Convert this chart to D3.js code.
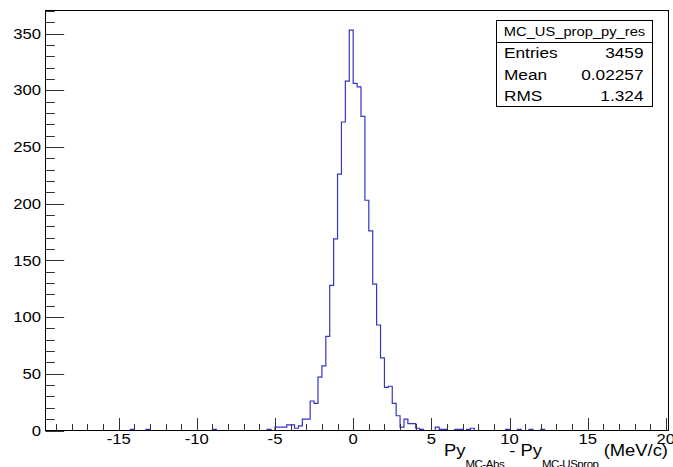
<!DOCTYPE html>
<html>
<head>
<meta charset="utf-8">
<script src="https://cdn.jsdelivr.net/npm/d3@7"></script>
<style>
  html, body { margin: 0; padding: 0; background: #fff; }
  svg { display: block; font-family: "Liberation Sans", Arial, Helvetica, sans-serif; }
</style>
</head>
<body>
<svg id="chart" width="673" height="467"></svg>
<script>
// ---- data ----
const binWidth = 0.25;
// low edges of the non-empty bins
const binLowEdges = [-14.25, -13.25, -9.0, -5.5, -5.0, -4.75, -4.5, -4.25, -4.0, -3.75, -3.5, -3.25, -3.0,
  -2.75, -2.5, -2.25, -2.0, -1.75, -1.5, -1.25, -1.0, -0.75, -0.5, -0.25,
  0.0, 0.25, 0.5, 0.75, 1.0, 1.25, 1.5, 1.75, 2.0, 2.25, 2.5, 2.75, 3.0, 3.25, 3.5, 3.75, 4.0, 4.25,
  5.25, 5.5, 5.75, 6.5, 6.75, 7.25, 7.5, 9.75, 10.5, 11.25, 12.0];
const binCounts = [1, 1, 1, 1, 3, 3, 3, 5, 5, 2, 4, 10, 10,
  26, 24, 47, 57, 83, 128, 169, 226, 272, 308, 353,
  306, 303, 277, 203, 176, 129, 93, 64, 38, 39, 24, 13, 3, 10, 6, 6, 2, 1,
  3, 1, 1, 1, 1, 1, 2, 1, 1, 1, 1];
const xDomain = [-19.68, 20.17];
const yDomain = [0, 370.3];
const xMajorTicks = [-15, -10, -5, 0, 5, 10, 15, 20];
const yMajorTicks = [0, 50, 100, 150, 200, 250, 300, 350];
const statsTitle = "MC_US_prop_py_res";
const statsLabels = ["Entries", "Mean", "RMS"];
const statsValues = ["3459", "0.02257", "1.324"];

// ---- layout ----
const L = 45.5, R = 668.5, T = 10.5, B = 430.5;
const SX = 1.15; // horizontal text stretch seen in the reference
const svg = d3.select("#chart");
const x = d3.scaleLinear().domain(xDomain).range([L, R]);
const y = d3.scaleLinear().domain(yDomain).range([B, T]);

function stext(g, px, py, str, size, anchor) {
  return g.append("text")
    .attr("transform", `translate(${px},${py}) scale(${SX},1)`)
    .attr("text-anchor", anchor)
    .attr("font-size", size)
    .attr("fill", "#000")
    .text(str);
}

// ---- histogram (dense bins built from the sparse data) ----
const kMin = Math.floor(xDomain[0] / binWidth), kMax = Math.ceil(xDomain[1] / binWidth);
const countMap = new Map();
binLowEdges.forEach((e, i) => countMap.set(Math.round(e / binWidth), binCounts[i]));
const pts = [];
for (let k = kMin; k < kMax; k++) pts.push([k * binWidth, countMap.get(k) || 0]);
pts.push([kMax * binWidth, pts[pts.length - 1][1]]);

svg.append("clipPath").attr("id", "clip")
  .append("rect").attr("x", L).attr("y", T - 2).attr("width", R - L).attr("height", B - T + 2);

const line = d3.line().x(d => x(d[0])).y(d => y(d[1])).curve(d3.curveStepAfter);
svg.append("path")
  .attr("d", line(pts))
  .attr("clip-path", "url(#clip)")
  .attr("fill", "none")
  .attr("stroke", "#3434c8")
  .attr("stroke-width", 1.2);

// ---- frame ----
svg.append("rect").attr("x", L).attr("y", T).attr("width", R - L).attr("height", B - T)
  .attr("fill", "none").attr("stroke", "#000").attr("stroke-width", 1);

// ---- x axis ticks (drawn inward, upward) ----
const xMinor = d3.range(Math.ceil(xDomain[0]), Math.floor(xDomain[1]) + 1);
const gx = svg.append("g");
xMinor.forEach(v => {
  const major = xMajorTicks.includes(v);
  const px = Math.round(x(v)) + 0.5;
  gx.append("line").attr("x1", px).attr("x2", px)
    .attr("y1", B).attr("y2", B - (major ? 12.5 : 6.5))
    .attr("stroke", "#333").attr("stroke-width", 1);
});
xMajorTicks.forEach(v => stext(gx, x(v), 444, String(v), 14.5, "middle"));

// ---- y axis ticks (drawn inward, rightward) ----
const yMinor = d3.range(0, Math.floor(yDomain[1]) + 1, 10);
const gy = svg.append("g");
yMinor.forEach(v => {
  const major = yMajorTicks.includes(v);
  const py = Math.round(y(v)) + 0.5;
  gy.append("line").attr("x1", L).attr("x2", L + (major ? 18.7 : 9.3))
    .attr("y1", py).attr("y2", py)
    .attr("stroke", "#333").attr("stroke-width", 1);
});
yMajorTicks.forEach(v => stext(gy, 41, y(v) + 5.2, String(v), 14.5, "end"));

// ---- axis title with subscripts ----
const tg = svg.append("g").attr("transform", `translate(668,456) scale(${SX},1)`);
const tt = tg.append("text").attr("text-anchor", "end").attr("font-size", 16).attr("fill", "#000");
tt.append("tspan").text("Py");
tt.append("tspan").attr("font-size", 10).attr("letter-spacing", -0.4).attr("dy", 12).text("MC-Abs");
tt.append("tspan").attr("dy", -12).text(" - Py");
tt.append("tspan").attr("font-size", 10).attr("letter-spacing", -0.4).attr("dy", 12).text("MC-USprop");
tt.append("tspan").attr("dy", -12).text(" (MeV/c)");

// ---- statistics box ----
const sbx = 496.5, sby = 20.5, sbw = 156, sbh = 86;
const rowH = sbh / 4;
const gs = svg.append("g");
gs.append("rect").attr("x", sbx).attr("y", sby).attr("width", sbw).attr("height", sbh)
  .attr("fill", "#fff").attr("stroke", "#000").attr("stroke-width", 1);
gs.append("line").attr("x1", sbx).attr("x2", sbx + sbw)
  .attr("y1", Math.round(sby + rowH) + 0.5).attr("y2", Math.round(sby + rowH) + 0.5)
  .attr("stroke", "#000").attr("stroke-width", 1);
stext(gs, sbx + sbw / 2, sby + rowH / 2 + 4.8, statsTitle, 12.8, "middle");
statsLabels.forEach((lab, i) => {
  const by = sby + rowH * (i + 1.5) + 5.6;
  stext(gs, 504, by, lab, 15, "start");
  stext(gs, 643.5, by, statsValues[i], 15, "end");
});
</script>
</body>
</html>
